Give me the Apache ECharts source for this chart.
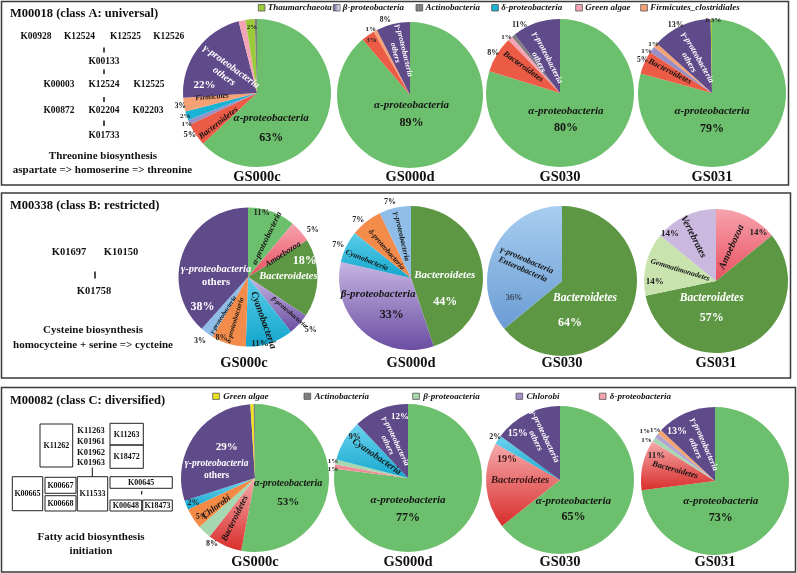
<!DOCTYPE html>
<html>
<head>
<meta charset="utf-8">
<script src="https://cdn.jsdelivr.net/npm/echarts@6.0.0/dist/echarts.min.js"></script>
<style>
html,body{margin:0;padding:0;background:#ffffff;}
#chart{width:797px;height:573px;}
</style>
</head>
<body>
<div id="chart"></div>
<script>
// ================= DATA =================
const sampleNames = ['GS000c', 'GS000d', 'GS030', 'GS031'];
const moduleTitles = ['M00018 (class A: universal)', 'M00338 (class B: restricted)', 'M00082 (class C: diversified)'];
const pathwayA = ['Threonine biosynthesis', 'aspartate => homoserine => threonine'];
const pathwayB = ['Cysteine biosynthesis', 'homocycteine + serine => cycteine'];
const pathwayC = ['Fatty acid biosynthesis', 'initiation'];

const legendA = ['Thaumarchaeota', 'β-proteobacteria', 'Actinobacteria', 'δ-proteobacteria', 'Green algae', 'Firmicutes_clostridiales'];
const legendC = ['Green algae', 'Actinobacteria', 'β-proteoacteria', 'Chlorobi', 'δ-proteobacteria'];

const genesA = ['K00928','K12524','K12525','K12526','K00133','K00003','K12524','K12525','K00872','K02204','K02203','K01733'];
const genesB = ['K01697','K10150','K01758'];
const genesCList = ['K11263','K01961','K01962','K01963'];
const genesCBoxes = ['K11262','K11263','K18472','K00665','K00667','K00668','K11533','K00645','K00648','K18473'];

// Panel A (class A: universal)
const A_GS000c_taxa = ['α-proteobacteria','Bacteroidetes','β-proteobacteria','δ-proteobacteria','Firmicutes','γ-proteobacteria others','Green algae','Thaumarchaeota','Actinobacteria'];
const A_GS000c_pct  = [63, 5, 1, 2, 3, 22, 1.5, 2, 0.5];
const A_GS000d_taxa = ['α-proteobacteria','Bacteroidetes','Firmicutes','γ-proteobacteria others'];
const A_GS000d_pct  = [89, 3, 0.8, 7.5];
const A_GS030_taxa  = ['α-proteobacteria','Bacteroidetes','Green algae','Actinobacteria','γ-proteobacteria others'];
const A_GS030_pct   = [80, 8, 1, 0.8, 10.5];
const A_GS031_taxa  = ['α-proteobacteria','Bacteroidetes','β-proteobacteria','Firmicutes','γ-proteobacteria others','Thaumarchaeota'];
const A_GS031_pct   = [79, 5, 1.4, 1, 13, 0.3];

// Panel B (class B: restricted)
const B_GS000c_taxa = ['α-proteobacteria','Amoebozoa','Bacteroidetes','β-proteobacteria','Cyanobacteria','δ-proteobacteria','γ-proteobacteria','γ-proteobacteria others'];
const B_GS000c_pct  = [11, 5, 18, 5, 11, 8, 3, 38];
const B_GS000d_taxa = ['Bacteroidetes','β-proteobacteria','Cyanobacteria','δ-proteobacteria','γ-proteobacteria'];
const B_GS000d_pct  = [44, 33, 7, 7, 7];
const B_GS030_taxa  = ['Bacteroidetes','γ-proteobacteria Enterobacteria'];
const B_GS030_pct   = [64, 36];
const B_GS031_taxa  = ['Amoebozoa','Bacteroidetes','Gemmatimonadetes','Vertebrates'];
const B_GS031_pct   = [14, 57, 14, 14];

// Panel C (class C: diversified)
const C_GS000c_taxa = ['α-proteobacteria','Bacteroidetes','β-proteoacteria','Chlorobi','Cyanobacteria','γ-proteobacteria others','Green algae','Actinobacteria'];
const C_GS000c_pct  = [53, 7.5, 3, 4.5, 2, 29, 0.7, 0.3];
const C_GS000d_taxa = ['α-proteobacteria','δ-proteobacteria','β-proteoacteria','Cyanobacteria','γ-proteobacteria others'];
const C_GS000d_pct  = [77, 1, 1, 9, 12];
const C_GS030_taxa  = ['α-proteobacteria','Bacteroidetes','Cyanobacteria','γ-proteobacteria others'];
const C_GS030_pct   = [65, 19, 2, 15];
const C_GS031_taxa  = ['α-proteobacteria','Bacteroidetes','β-proteoacteria','Chlorobi','Firmicutes','γ-proteobacteria others'];
const C_GS031_pct   = [73, 11, 1, 1, 1, 13];

// ================= STYLE / LAYOUT =================
const SERIF = '"Liberation Serif", "Times New Roman", serif';
function grad(a, b) { return {type:'linear', x:0, y:0, x2:0, y2:1, colorStops:[{offset:0, color:a},{offset:1, color:b}]}; }

const ALPHA = '#6cbf6c', GOTH = '#5f4a8a';
const panelColors = {
  A: {'α-proteobacteria':ALPHA, 'Bacteroidetes':'#ec5b45', 'β-proteobacteria':'#9a8fc4', 'δ-proteobacteria':'#1cb2d6',
      'Firmicutes':'#f6a175', 'γ-proteobacteria others':GOTH, 'Green algae':'#f4a4b6', 'Thaumarchaeota':'#9ccb3a', 'Actinobacteria':'#7f7f7f'},
  B: {'α-proteobacteria':ALPHA, 'Amoebozoa':grad('#f6a3ad','#e8505e'), 'Bacteroidetes':'#5e9744', 'β-proteobacteria':grad('#c6b5e2','#6a4ea2'),
      'Cyanobacteria':grad('#5ccde9','#13a6cc'), 'δ-proteobacteria':'#f38b4b', 'γ-proteobacteria':'#8fbde8', 'γ-proteobacteria others':GOTH,
      'γ-proteobacteria Enterobacteria':grad('#a8cef0','#6a9cd4'), 'Gemmatimonadetes':'#c8e3ae', 'Vertebrates':'#cab8de'},
  C: {'α-proteobacteria':ALPHA, 'Bacteroidetes':grad('#f5a9aa','#d92e2c'), 'β-proteoacteria':'#a5d8b0', 'Chlorobi':'#f38a45',
      'Cyanobacteria':grad('#6dd3ee','#15a8cf'), 'γ-proteobacteria others':GOTH, 'Green algae':'#eee11e', 'Actinobacteria':'#7f7f7f',
      'δ-proteobacteria':'#f28d9a', 'Firmicutes':'#f4a46e'}
};
const colorOverride = { C3: {'Chlorobi':'#b3a3d3'} };

const pies = [
  {id:'A0', panel:'A', taxa:A_GS000c_taxa, pct:A_GS000c_pct},
  {id:'A1', panel:'A', taxa:A_GS000d_taxa, pct:A_GS000d_pct},
  {id:'A2', panel:'A', taxa:A_GS030_taxa,  pct:A_GS030_pct},
  {id:'A3', panel:'A', taxa:A_GS031_taxa,  pct:A_GS031_pct},
  {id:'B0', panel:'B', taxa:B_GS000c_taxa, pct:B_GS000c_pct},
  {id:'B1', panel:'B', taxa:B_GS000d_taxa, pct:B_GS000d_pct},
  {id:'B2', panel:'B', taxa:B_GS030_taxa,  pct:B_GS030_pct},
  {id:'B3', panel:'B', taxa:B_GS031_taxa,  pct:B_GS031_pct},
  {id:'C0', panel:'C', taxa:C_GS000c_taxa, pct:C_GS000c_pct},
  {id:'C1', panel:'C', taxa:C_GS000d_taxa, pct:C_GS000d_pct},
  {id:'C2', panel:'C', taxa:C_GS030_taxa,  pct:C_GS030_pct},
  {id:'C3', panel:'C', taxa:C_GS031_taxa,  pct:C_GS031_pct}
];

const pieGeom = {
  A0:{c:[257,93], r:74}, A1:{c:[410,95], r:73}, A2:{c:[560,93], r:74}, A3:{c:[712,93], r:74},
  B0:{c:[248,277], r:69.5}, B1:{c:[411,278], r:72}, B2:{c:[562,281], r:75}, B3:{c:[716,281], r:72},
  C0:{c:[255,478], r:74}, C1:{c:[408,478], r:74}, C2:{c:[560,480], r:74}, C3:{c:[715,481], r:74}
};
const sampleLabelY = {A:177, B:363, C:562};
const sampleLabelX = {B0:244};

const W = '#ffffff', D = '#151515';
// n: name label, np: name + percent block, p: percent label. ang = degrees clockwise from 12 o'clock, rf = fraction of radius
const labelSpec = {
  A0: {'α-proteobacteria':{np:{ang:158, rf:.51, fs:11, pfs:12, lh:20, c:D}},
       'γ-proteobacteria others':{n:{rf:.49, rot:'r', c:W, fs:10}, p:{ang:279, rf:.72, c:W, fs:11}},
       'Firmicutes':{n:{ang:265, rf:.61, rot:'r', c:D, fs:7.5}, p:{ang:260, rf:1.05, fs:7.5}},
       'Bacteroidetes':{n:{ang:232, rf:.66, rot:'r', c:D, fs:8.5}, p:{ang:238, rf:1.07, fs:8.5}},
       'β-proteobacteria':{p:{ang:246, rf:1.04, fs:7}},
       'δ-proteobacteria':{p:{ang:252, rf:1.02, fs:7}},
       'Thaumarchaeota':{p:{ang:355.7, rf:.89, fs:7}}},
  A1: {'α-proteobacteria':{np:{ang:175.5, rf:.26, fs:11, pfs:12, lh:17, c:D}},
       'γ-proteobacteria others':{n:{rf:.61, rot:'r', c:W, fs:8}, p:{ang:341.8, rf:1.08, fs:7.5}},
       'Firmicutes':{p:{ang:329.2, rf:1.05, fs:7}},
       'Bacteroidetes':{p:{ang:325, rf:.92, fs:7}}},
  A2: {'α-proteobacteria':{np:{ang:167.5, rf:.37, fs:11, pfs:12, lh:17, c:D}},
       'γ-proteobacteria others':{n:{ang:333, rf:.5, rot:'r', c:W, fs:8.5}, p:{ang:329.5, rf:1.07, fs:8}},
       'Green algae':{p:{ang:316, rf:1.04, fs:7}},
       'Bacteroidetes':{n:{ang:305.6, rf:.61, rot:'r', c:D, fs:8.5}, p:{ang:300.8, rf:1.05, fs:8}}},
  A3: {'α-proteobacteria':{np:{ang:180, rf:.365, fs:11, pfs:12, lh:17, c:D}},
       'γ-proteobacteria others':{n:{ang:330.5, rf:.51, rot:'r', c:W, fs:8.5}, p:{ang:332, rf:1.04, fs:8}},
       'Thaumarchaeota':{p:{ang:1, rf:.99, fs:7}},
       'Bacteroidetes':{n:{ang:297, rf:.64, rot:'r', c:D, fs:8.5}, p:{ang:295.5, rf:1.04, fs:7.5}},
       'β-proteobacteria':{p:{ang:302.5, rf:1.05, fs:7}},
       'Firmicutes':{p:{ang:310, rf:1.03, fs:7}}},
  B0: {'α-proteobacteria':{n:{ang:26, rf:.62, rot:'r', c:D, fs:8.5}, p:{ang:12, rf:.95, fs:8.5}},
       'Amoebozoa':{n:{ang:57, rf:.6, rot:'r', c:D, fs:8.5}, p:{ang:54, rf:1.15, fs:8}},
       'Bacteroidetes':{n:{ang:89, rf:.58, rot:0, c:W, fs:10.5}, p:{ang:74.2, rf:.85, c:W, fs:12}},
       'β-proteobacteria':{n:{ang:130.5, rf:.78, rot:'r', c:D, fs:6.5}, p:{ang:130.2, rf:1.18, fs:8}},
       'Cyanobacteria':{n:{ang:160.4, rf:.66, rot:'r', c:D, fs:10}, p:{ang:169.7, rf:.97, fs:9}},
       'δ-proteobacteria':{n:{ang:196.5, rf:.65, rot:'r', c:D, fs:7}, p:{ang:203.5, rf:.96, fs:8}},
       'γ-proteobacteria':{n:{ang:213, rf:.65, rot:'r', c:D, fs:6.5}, p:{ang:217, rf:1.15, fs:8}},
       'γ-proteobacteria others':{n:{ang:272.3, rf:.46, rot:0, c:W, fs:10.5, plain2:true, lh:13}, p:{ang:236.9, rf:.78, c:W, fs:12}}},
  B1: {'Bacteroidetes':{n:{ang:86, rf:.47, rot:0, c:W, fs:11}, p:{ang:124.9, rf:.58, c:W, fs:12}},
       'β-proteobacteria':{n:{ang:243.5, rf:.51, rot:0, c:D, fs:11}, p:{ang:207.5, rf:.58, c:D, fs:12}},
       'Cyanobacteria':{n:{ang:292, rf:.66, rot:'r', c:D, fs:7.5}, p:{ang:294.4, rf:1.11, fs:8}},
       'δ-proteobacteria':{n:{ang:319, rf:.52, rot:'r', c:D, fs:7.5}, p:{ang:317.7, rf:1.09, fs:8}},
       'γ-proteobacteria':{n:{ang:347, rf:.59, rot:'r', c:D, fs:7.5}, p:{ang:344.6, rf:1.1, fs:8}}},
  B2: {'Bacteroidetes':{n:{ang:126, rf:.38, rot:0, c:W, fs:11.5}, p:{ang:169.3, rf:.57, c:W, fs:12}},
       'γ-proteobacteria Enterobacteria':{n:{ang:293.4, rf:.54, rot:'r', c:D, fs:8.5, lh:10}, p:{ang:251.5, rf:.68, c:'#222', fs:9, nb:true}}},
  B3: {'Amoebozoa':{n:{ang:24.6, rf:.52, rot:'r', c:D, fs:10}, p:{ang:41.6, rf:.89, fs:9}},
       'Bacteroidetes':{n:{ang:194.4, rf:.24, rot:0, c:W, fs:11.5}, p:{ang:186.6, rf:.52, c:W, fs:12}},
       'Gemmatimonadetes':{n:{ang:287, rf:.52, rot:'r', c:D, fs:7.5}, p:{ang:269.7, rf:.85, fs:9}},
       'Vertebrates':{n:{ang:332.9, rf:.69, rot:'r', c:D, fs:10}, p:{ang:316, rf:.92, fs:9}}},
  C0: {'α-proteobacteria':{np:{ang:114, rf:.49, fs:10, pfs:11, lh:18, c:D}},
       'γ-proteobacteria others':{n:{ang:281.8, rf:.53, rot:0, c:W, fs:9.5, plain2:true, lh:12}, p:{ang:317.9, rf:.57, c:W, fs:11}},
       'Bacteroidetes':{n:{ang:206.4, rf:.61, rot:'r', c:D, fs:9}, p:{ang:213, rf:1.07, fs:8}},
       'Chlorobi':{n:{ang:233.2, rf:.65, rot:'r', c:D, fs:9}, p:{ang:234, rf:.89, fs:8}},
       'Cyanobacteria':{p:{ang:247.7, rf:.9, fs:8}}},
  C1: {'α-proteobacteria':{np:{ang:180, rf:.42, fs:11, pfs:12, lh:18, c:D}},
       'γ-proteobacteria others':{n:{ang:334.8, rf:.52, rot:'r', c:W, fs:8}, p:{ang:352.6, rf:.84, c:W, fs:9}},
       'Cyanobacteria':{n:{ang:304.2, rf:.51, rot:'r', c:D, fs:9.5}, p:{ang:307.9, rf:.91, fs:8}},
       'β-proteoacteria':{p:{ang:283, rf:1.04, fs:7}},
       'δ-proteobacteria':{p:{ang:276.8, rf:1.02, fs:7}}},
  C2: {'α-proteobacteria':{np:{ang:155.1, rf:.43, fs:11, pfs:12, lh:16, c:D}},
       'γ-proteobacteria others':{n:{ang:334.4, rf:.62, rot:'r', c:W, fs:8.5}, p:{ang:317.8, rf:.85, c:W, fs:10}},
       'Bacteroidetes':{n:{ang:269, rf:.54, rot:0, c:'#3a1414', fs:10.5}, p:{ang:291.5, rf:.77, c:'#3a1414', fs:10}},
       'Cyanobacteria':{p:{ang:303.7, rf:1.05, fs:8}}},
  C3: {'α-proteobacteria':{np:{ang:168.5, rf:.39, fs:11, pfs:12, lh:17, c:D}},
       'γ-proteobacteria others':{n:{ang:336.4, rf:.51, rot:'r', c:W, fs:8.5}, p:{ang:322.2, rf:.84, c:W, fs:10}},
       'Bacteroidetes':{n:{ang:285.4, rf:.56, rot:'r', c:D, fs:8.5}, p:{ang:293.2, rf:.86, fs:9}},
       'β-proteoacteria':{p:{ang:301, rf:1.08, fs:7}},
       'Chlorobi':{p:{ang:305.2, rf:1.16, fs:7}},
       'Firmicutes':{p:{ang:310.4, rf:1.06, fs:7}}}
};

// ================= HELPERS =================
const pctText = v => (v < 0.5 ? String(v) : String(Math.round(v))) + '%';
function sliceAngles(vals) {
  const s = vals.reduce((a, b) => a + b, 0);
  let acc = 0;
  return vals.map(v => { const a0 = acc / s * 360; acc += v; return [a0, acc / s * 360]; });
}
function placeAt(g, ang, rf) {
  const t = ang * Math.PI / 180;
  return [g.c[0] + rf * g.r * Math.sin(t), g.c[1] - rf * g.r * Math.cos(t)];
}
function radialRot(ang) {
  let phi = ang - 90;
  while (phi > 90) phi -= 180;
  while (phi <= -90) phi += 180;
  return -phi;
}
function nameLabel(name, value, s, withPct) {
  const lines = name.replace(' others', '\nothers').replace(' Enterobacteria', '\nEnterobacteria').split('\n');
  let fmt = lines.map((l, i) => '{' + (i > 0 && s.plain2 ? 'nb' : 'ni') + '|' + l + '}').join('\n');
  if (withPct) fmt += '\n{pc|' + pctText(value) + '}';
  const lh = s.lh || Math.round(s.fs * 1.15);
  return {
    show: true, position: 'inside', formatter: fmt,
    rich: {
      ni: {fontFamily: SERIF, fontStyle: 'italic', fontWeight: 'bold', fontSize: s.fs, color: s.c || D, lineHeight: lh, align: 'center'},
      nb: {fontFamily: SERIF, fontWeight: 'bold', fontSize: s.fs, color: s.c || D, lineHeight: lh, align: 'center'},
      pc: {fontFamily: SERIF, fontWeight: 'bold', fontSize: s.pfs || s.fs, color: s.c || D, lineHeight: lh, align: 'center'}
    }
  };
}
function pctLabel(value, s) {
  return {show: true, position: 'inside', formatter: pctText(value), fontFamily: SERIF,
          fontWeight: s.nb ? 'normal' : 'bold', fontSize: s.fs, color: s.c || '#222'};
}
function makeLayout(pos) {
  return function (params) {
    const q = pos[params.dataIndex];
    if (!q) return {};
    return {x: q.x, y: q.y, rotate: q.rot, align: 'center', verticalAlign: 'middle'};
  };
}

// ================= SERIES =================
const series = [];
pies.forEach(p => {
  const g = pieGeom[p.id];
  const spec = labelSpec[p.id] || {};
  const angs = sliceAngles(p.pct);
  const colors = Object.assign({}, panelColors[p.panel], colorOverride[p.id] || {});
  const mainPos = [], ovPos = [];
  const mainData = [], ovData = [];
  p.taxa.forEach((t, i) => {
    const s = spec[t] || {};
    const bis = (angs[i][0] + angs[i][1]) / 2;
    const ns = s.n || s.np;
    let lab = {show: false};
    if (ns) {
      const ang = ns.ang != null ? ns.ang : bis;
      const xy = placeAt(g, ang, ns.rf);
      mainPos[i] = {x: xy[0], y: xy[1], rot: ns.rot === 'r' ? radialRot(ang) : (ns.rot || 0)};
      lab = nameLabel(t, p.pct[i], ns, !!s.np);
    }
    mainData.push({name: t, value: p.pct[i], itemStyle: {color: colors[t]}, label: lab});
    let olab = {show: false};
    if (s.p) {
      const ang = s.p.ang != null ? s.p.ang : bis;
      const xy = placeAt(g, ang, s.p.rf);
      ovPos[i] = {x: xy[0], y: xy[1], rot: 0};
      olab = pctLabel(p.pct[i], s.p);
    }
    ovData.push({name: t, value: p.pct[i], itemStyle: {color: 'rgba(0,0,0,0)'}, label: olab});
  });
  const common = {
    type: 'pie', center: g.c, radius: [0, g.r], startAngle: 90, clockwise: true,
    avoidLabelOverlap: false, silent: true, animation: false, minShowLabelAngle: 0,
    labelLine: {show: false}, emphasis: {disabled: true, scale: false},
    itemStyle: {borderWidth: 0}
  };
  series.push(Object.assign({}, common, {name: p.id, label: {show: false, position: 'inside'}, data: mainData, labelLayout: makeLayout(mainPos)}));
  series.push(Object.assign({}, common, {name: p.id + '_pct', z: 3, label: {show: false, position: 'inside'}, data: ovData, labelLayout: makeLayout(ovPos)}));
});

// ================= GRAPHICS (frames, gene maps, legends, sample names) =================
const gr = [];
function txt(x, y, text, font, opts) {
  gr.push(Object.assign({type: 'text', x: x, y: y, silent: true,
    style: Object.assign({text: text, font: font, fill: '#111', align: 'center', verticalAlign: 'middle'}, (opts || {}))}));
}
function rect(x, y, w, h, stroke, lw, fill) {
  gr.push({type: 'rect', silent: true, shape: {x: x, y: y, width: w, height: h},
    style: {fill: fill || 'none', stroke: stroke || '#222', lineWidth: lw || 1}});
}
function vline(x, y1, y2, lw) {
  gr.push({type: 'line', silent: true, shape: {x1: x, y1: y1, x2: x, y2: y2}, style: {stroke: '#111', lineWidth: lw || 1.5}});
}

// panel frames
rect(1.5, 1.5, 787, 183.5, '#3a3a3a', 1.5);
rect(1.5, 193, 789, 185, '#3a3a3a', 1.5);
rect(1.5, 387.5, 794, 184.5, '#3a3a3a', 1.5);

// panel titles
const titleY = [14, 206, 401];
moduleTitles.forEach((t, i) => txt(10, titleY[i], t, 'bold 12.5px ' + SERIF, {align: 'left'}));

// Panel A gene map
const genesAPos = [[36,37],[79.5,37],[125.5,37],[168.8,37],[104,62],[59,85],[104,85],[149,85],[59,111],[104,111],[148,111],[104,136]];
genesA.forEach((k, i) => txt(genesAPos[i][0], genesAPos[i][1], k, 'bold 9.5px ' + SERIF));
[[47.5,52.5],[69.5,74],[97,102],[120.5,126]].forEach(s => vline(104, s[0], s[1]));
txt(103, 156, pathwayA[0], 'bold 11px ' + SERIF);
txt(102.5, 170, pathwayA[1], 'bold 11px ' + SERIF);

// Panel B gene map
const genesBPos = [[69,252.7],[121,252.7],[94,291.7]];
genesB.forEach((k, i) => txt(genesBPos[i][0], genesBPos[i][1], k, 'bold 10.5px ' + SERIF));
vline(95, 271.5, 278.5);
txt(93, 330, pathwayB[0], 'bold 11px ' + SERIF);
txt(93, 345, pathwayB[1], 'bold 11px ' + SERIF);

// Panel C gene map
const boxRects = [[40,424,32.7,43],[110,423.3,33.3,21.7],[110,445,33.3,23.3],[12.3,476.7,30.4,34],[45,477.3,31,16],[45,495.7,31,15.3],
                  [77.3,476.7,30.4,34.3],[110,476.7,62.3,11.6],[110,500,31.7,11],[142.7,500,29.6,11]];
genesCBoxes.forEach((k, i) => {
  const b = boxRects[i];
  rect(b[0], b[1], b[2], b[3], '#222', 1);
  txt(b[0] + b[2] / 2, b[1] + b[3] / 2 + 0.5, k, 'bold 8px ' + SERIF);
});
const listY = [430.7, 441.7, 452.7, 462.3];
genesCList.forEach((k, i) => txt(91, listY[i], k, 'bold 8.5px ' + SERIF));
vline(92.3, 467.5, 476.7, 1);
vline(141.7, 491, 494.5, 1.2);
txt(91, 536.7, pathwayC[0], 'bold 11px ' + SERIF);
txt(91, 550.7, pathwayC[1], 'bold 11px ' + SERIF);

// legends
const legAColors = ['#9ccb3a', {type:'linear',x:0,y:0,x2:1,y2:0,colorStops:[{offset:0,color:'#5a4a8a'},{offset:1,color:'#ffffff'}]}, '#7f7f7f', '#1cb2d6', '#f4a4b6', '#f6a175'];
const legAX = [258.3, 333.3, 416, 491.7, 575.7, 640.7];
legendA.forEach((t, i) => {
  rect(legAX[i], 4.5, 6.7, 6.5, '#555', 0.8, legAColors[i]);
  txt(legAX[i] + 9.5, 8, t, 'italic bold 9px ' + SERIF, {align: 'left'});
});
const legCColors = ['#eee11e', '#7f7f7f', '#a5d8b0', '#a58fcb', '#f4a3b0'];
const legCX = [212.7, 304, 412.7, 516, 599.3];
legendC.forEach((t, i) => {
  rect(legCX[i], 393.2, 6.7, 6.2, '#555', 0.8, legCColors[i]);
  txt(legCX[i] + 10.5, 396.3, t, 'italic bold 9px ' + SERIF, {align: 'left'});
});

// sample names under pies
pies.forEach((p, i) => {
  const g = pieGeom[p.id];
  const x = sampleLabelX[p.id] != null ? sampleLabelX[p.id] : g.c[0];
  txt(x, sampleLabelY[p.panel], sampleNames[i % 4], 'bold 14.5px ' + SERIF);
});

const chart = echarts.init(document.getElementById('chart'), null, {renderer: 'canvas', width: 797, height: 573});
chart.setOption({
  animation: false,
  backgroundColor: '#ffffff',
  series: series,
  graphic: {elements: gr}
});
</script>
</body>
</html>
